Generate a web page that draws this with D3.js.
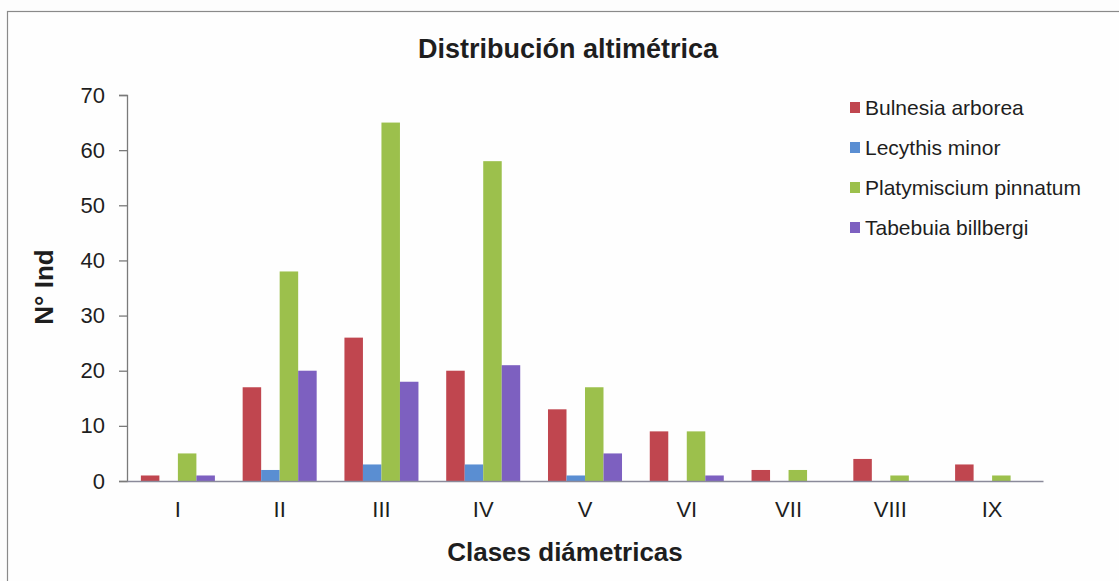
<!DOCTYPE html>
<html>
<head>
<meta charset="utf-8">
<script src="https://cdn.jsdelivr.net/npm/d3@7"></script>
<style>
  body { margin: 0; background: #fdfdfd; }
  svg { display: block; font-family: "Liberation Sans", Arial, sans-serif; }
</style>
</head>
<body>
<svg id="chart"></svg>
<script>
// data
var clases = ["I", "II", "III", "IV", "V", "VI", "VII", "VIII", "IX"];
var especies = ["Bulnesia arborea", "Lecythis minor", "Platymiscium pinnatum", "Tabebuia billbergi"];
var bulnesia = [1, 17, 26, 20, 13, 9, 2, 4, 3];
var lecythis = [0, 2, 3, 3, 1, 0, 0, 0, 0];
var platymiscium = [5, 38, 65, 58, 17, 9, 2, 1, 1];
var tabebuia = [1, 20, 18, 21, 5, 1, 0, 0, 0];
var yTicks = [0, 10, 20, 30, 40, 50, 60, 70];
var colores = ["#c0464f", "#5a8ed2", "#9cc04c", "#7d60c0"];

var series = [bulnesia, lecythis, platymiscium, tabebuia];

var W = 1119, H = 581;
var svg = d3.select("#chart").attr("width", W).attr("height", H);

// chart area frame
svg.append("rect")
  .attr("x", 7.5).attr("y", 11.5)
  .attr("width", W + 10).attr("height", H + 10)
  .attr("fill", "#fefefe")
  .attr("stroke", "#8a8a8a")
  .attr("stroke-width", 1.2);

var plot = {left: 127, right: 1043, top: 95, bottom: 481};

var x0 = d3.scaleBand()
  .domain(clases)
  .range([plot.left, plot.right])
  .padding(0);

// gap width 150% -> group uses 4 of 5.5 bar widths
var barW = x0.bandwidth() / 5.5;
var x1 = d3.scaleBand()
  .domain(d3.range(4))
  .range([0, barW * 4]);

var y = d3.scaleLinear()
  .domain([0, 70])
  .range([plot.bottom, plot.top]);

// bars
var g = svg.append("g");
series.forEach(function(vals, s) {
  g.selectAll(".bar-" + s)
    .data(vals)
    .enter()
    .append("rect")
    .attr("class", "bar-" + s)
    .attr("x", (d, i) => x0(clases[i]) + barW * 0.75 + x1(s))
    .attr("y", d => y(d))
    .attr("width", x1.bandwidth())
    .attr("height", d => y(0) - y(d))
    .attr("fill", colores[s]);
});

// y axis
var yAxis = d3.axisLeft(y)
  .tickValues(yTicks)
  .tickSize(8)
  .tickPadding(14)
  .tickFormat(d3.format("d"));

var yg = svg.append("g")
  .attr("transform", "translate(" + plot.left + ",0)")
  .call(yAxis);
yg.select(".domain").attr("stroke", "#7a7a7a").attr("stroke-width", 1.3);
yg.selectAll(".tick line").attr("stroke", "#7a7a7a").attr("stroke-width", 1.3);
yg.selectAll(".tick text")
  .attr("fill", "#1e1e1e")
  .style("font-size", "22px");

// x axis
var xAxis = d3.axisBottom(x0)
  .tickSize(0)
  .tickPadding(20);

var xg = svg.append("g")
  .attr("transform", "translate(0," + plot.bottom + ")")
  .call(xAxis);
xg.select(".domain").attr("stroke", "#8a8a9a").attr("stroke-width", 1.3);
xg.selectAll(".tick text")
  .attr("fill", "#1e1e1e")
  .style("font-size", "22px");

// title
svg.append("text")
  .attr("x", 568)
  .attr("y", 58)
  .attr("text-anchor", "middle")
  .style("font-size", "27px")
  .style("font-weight", "bold")
  .attr("fill", "#1e1e1e")
  .text("Distribución altimétrica");

// axis titles
svg.append("text")
  .attr("x", 565)
  .attr("y", 561)
  .attr("text-anchor", "middle")
  .style("font-size", "26px")
  .style("font-weight", "bold")
  .attr("fill", "#1e1e1e")
  .text("Clases diámetricas");

svg.append("text")
  .attr("transform", "translate(53,287) rotate(-90)")
  .attr("text-anchor", "middle")
  .style("font-size", "26px")
  .style("font-weight", "bold")
  .attr("fill", "#1e1e1e")
  .text("N° Ind");

// legend
var legend = svg.append("g")
  .attr("transform", "translate(850,107)");

var items = legend.selectAll(".item")
  .data(especies)
  .enter()
  .append("g")
  .attr("class", "item")
  .attr("transform", (d, i) => "translate(0," + i * 40 + ")");

items.append("rect")
  .attr("x", 0).attr("y", -5)
  .attr("width", 10).attr("height", 11)
  .attr("fill", (d, i) => colores[i]);

items.append("text")
  .attr("x", 15)
  .attr("y", 8)
  .style("font-size", "21px")
  .attr("fill", "#1e1e1e")
  .text(d => d);
</script>
</body>
</html>
